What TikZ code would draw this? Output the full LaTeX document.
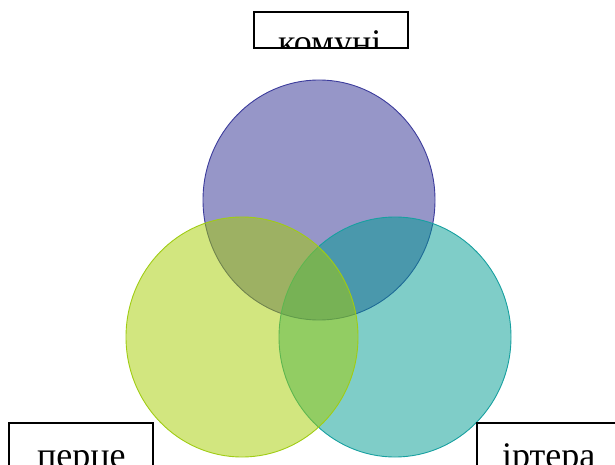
\documentclass[tikz,border=0pt]{standalone}
\usepackage{fontspec}
\setmainfont{Liberation Serif}
\usepackage{tikz}
\usetikzlibrary{positioning}
\definecolor{topset}{RGB}{45,45,145}
\definecolor{topline}{RGB}{60,60,156}
\definecolor{rightset}{RGB}{0,155,145}
\definecolor{rightline}{RGB}{23,160,160}
\definecolor{leftset}{RGB}{165,205,0}
\definecolor{leftline}{RGB}{160,204,20}

\begin{document}
\begin{tikzpicture}[x=1pt,y=-1pt,
        set/.style={fill opacity=0.5,line width=0.9pt},
        box/.style={draw=black,line width=1.3pt,rectangle,inner sep=0pt},
        word/.style={inner sep=0pt,font=\fontsize{36}{40}\selectfont}]

    \useasboundingbox (0,0) rectangle (615,465);
    \clip (0,0) rectangle (615,465);

    % the three sets
    \path[set,draw=topline,fill=topset] (319,200) ellipse [x radius=116pt,y radius=120pt];
    \path[set,draw=rightline,fill=rightset] (395,337) ellipse [x radius=116pt,y radius=120pt];
    \path[set,draw=leftline,fill=leftset] (242,337) ellipse [x radius=116pt,y radius=120pt];

    % labels
    \node[box,minimum width=154pt,minimum height=36pt] (tbox) at (331,30) {};
    \node[box,minimum width=144pt,minimum height=60pt] (lbox) at (81,453) {};
    \node[box,minimum width=170pt,minimum height=60pt] (rbox) at (562,453) {};

    \begin{scope}
    \clip (tbox.south west) rectangle (tbox.north east);
    \node[word,anchor=base west] (tword) at (278,55) {комуні};
    \end{scope}
    \node[word,anchor=base west] (lword) at (37,467) {перце};
    \node[word,anchor=base west] (rword) at (502,467) {іртера};

\end{tikzpicture}
\end{document}
